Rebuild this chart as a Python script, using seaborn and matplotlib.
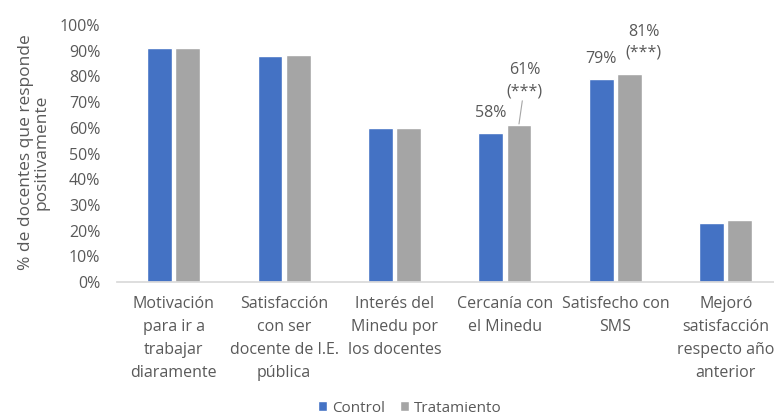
import pandas as pd
import numpy as np
import matplotlib.pyplot as plt
import seaborn as sns

# ─── Données ───
categorias = ['Motivación\npara ir a\ntrabajar\ndiaramente',
              'Satisfacción\ncon ser\ndocente de I.E.\npública',
              'Interés del\nMinedu por\nlos docentes',
              'Cercanía con\nel Minedu',
              'Satisfecho con\nSMS',
              'Mejoró\nsatisfacción\nrespecto año\nanterior']
control     = [0.91, 0.88, 0.60, 0.58, 0.79, 0.23]
tratamiento = [0.91, 0.885, 0.60, 0.61, 0.81, 0.24]
grupos = ['Control', 'Tratamiento']

df = pd.DataFrame({
    'categoria': categorias * 2,
    'valor': control + tratamiento,
    'grupo': ['Control'] * len(categorias) + ['Tratamiento'] * len(categorias),
})

sns.set_theme(style='white')
plt.rcParams['font.family'] = ['Open Sans', 'DejaVu Sans']
gris_texto = '#595959'

fig = plt.figure(figsize=(7.74, 4.16), dpi=100)
ax = fig.add_axes([0.151, 0.322, 0.86, 0.618])

sns.barplot(data=df, x='categoria', y='valor', hue='grupo',
            palette=['#4472C4', '#A5A5A5'], width=0.51, gap=0.12,
            saturation=1, ax=ax, legend=True)

ax.set_ylim(0, 1.0)
ax.set_yticks(np.arange(0, 1.01, 0.1))
ax.set_yticklabels([f'{int(round(v*100))}%' for v in np.arange(0, 1.01, 0.1)],
                   fontsize=11.5, color=gris_texto)
ax.set_xticks(range(len(categorias)))
ax.set_xticklabels(categorias, fontsize=11.5, color=gris_texto, linespacing=1.58)
ax.tick_params(axis='y', length=0, pad=12)
ax.tick_params(axis='x', length=0, pad=10)
ax.set_xlabel('')
ax.set_ylabel('% de docentes que responde\npositivamente', fontsize=12.5,
              color=gris_texto, linespacing=1.0)
ax.yaxis.label.set_va('center')
ax.yaxis.set_label_coords(-0.125, 0.505)
for s in ['top', 'right', 'left']:
    ax.spines[s].set_visible(False)
ax.spines['bottom'].set_color('#D9D9D9')

# ─── Annotations ───
off = 0.1275
kw = dict(ha='center', fontsize=11.5, color=gris_texto, linespacing=1.45)
ax.text(3 - off, control[3] + 0.076, f'{control[3]*100:.0f}%', va='center', **kw)
ax.text(3 + off + 0.05, tratamiento[3] + 0.10, f'{tratamiento[3]*100:.0f}%\n(***)',
        va='bottom', **kw)
ax.plot([3 + off + 0.03, 3 + off], [tratamiento[3] + 0.095, tratamiento[3] + 0.005],
        color='#A5A5A5', linewidth=0.8)
ax.text(4 - off, control[4] + 0.078, f'{control[4]*100:.0f}%', va='center', **kw)
ax.text(4 + off + 0.13, tratamiento[4] + 0.05, f'{tratamiento[4]*100:.0f}%\n(***)',
        va='bottom', **kw)

leg = ax.legend(loc='center', bbox_to_anchor=(0.44, -0.49), ncol=2,
                frameon=False, fontsize=11, handlelength=0.6, handleheight=0.6,
                handletextpad=0.3, columnspacing=1.0)
for t in leg.get_texts():
    t.set_color(gris_texto)

plt.savefig('out.png', dpi=100)
